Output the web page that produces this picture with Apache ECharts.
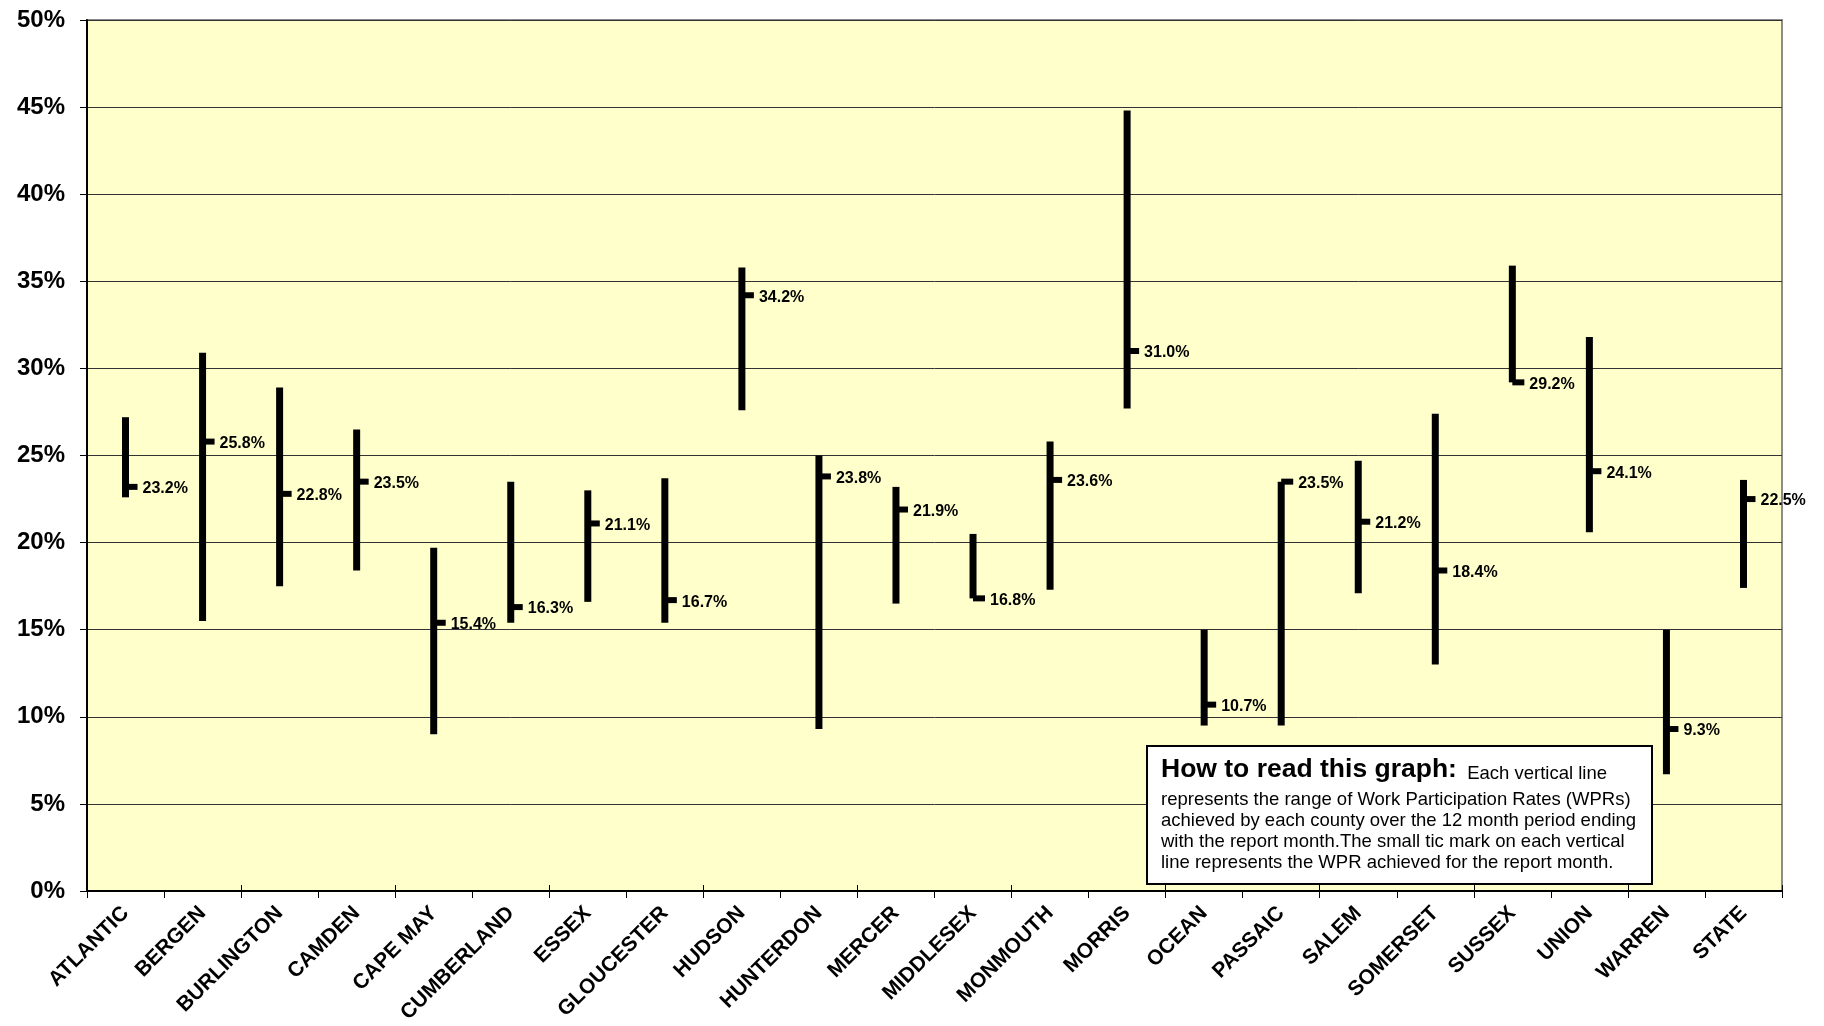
<!DOCTYPE html>
<html>
<head>
<meta charset="utf-8">
<script src="https://cdn.jsdelivr.net/npm/echarts@6/dist/echarts.min.js"></script>
<style>
html,body{margin:0;padding:0;background:#fff;}
#chart{width:1824px;height:1026px;}
</style>
</head>
<body>
<div id="chart"></div>
<script>
const categories = ['ATLANTIC','BERGEN','BURLINGTON','CAMDEN','CAPE MAY','CUMBERLAND','ESSEX','GLOUCESTER','HUDSON','HUNTERDON','MERCER','MIDDLESEX','MONMOUTH','MORRIS','OCEAN','PASSAIC','SALEM','SOMERSET','SUSSEX','UNION','WARREN','STATE'];
const highs   = [27.2, 30.9, 28.9, 26.5, 19.7, 23.5, 23.0, 23.7, 35.8, 25.0, 23.2, 20.5, 25.8, 44.8, 15.0, 23.5, 24.7, 27.4, 35.9, 31.8, 15.0, 23.6];
const lows    = [22.6, 15.5, 17.5, 18.4,  9.0, 15.4, 16.6, 15.4, 27.6,  9.3, 16.5, 16.8, 17.3, 27.7,  9.5,  9.5, 17.1, 13.0, 29.2, 20.6,  6.7, 17.4];
const current = [23.2, 25.8, 22.8, 23.5, 15.4, 16.3, 21.1, 16.7, 34.2, 23.8, 21.9, 16.8, 23.6, 31.0, 10.7, 23.5, 21.2, 18.4, 29.2, 24.1,  9.3, 22.5];
const yTicks = [0, 5, 10, 15, 20, 25, 30, 35, 40, 45, 50];

const noteHeading = 'How to read this graph:';
const noteLines = [
  'Each vertical line',
  'represents the range of Work Participation Rates (WPRs)',
  'achieved by each county over the 12 month period ending',
  'with the report month.The small tic mark on each vertical',
  'line represents the WPR achieved for the report month.'
];

const FONT = 'Arial, "Liberation Sans", Helvetica, sans-serif';
const data = categories.map((c, i) => [i, lows[i], highs[i], current[i]]);

const chart = echarts.init(document.getElementById('chart'), null, {renderer: 'canvas'});

const boxX = 1147, boxY = 746, boxW = 505, boxH = 138;
const textX = 1161;
const bodyFont = '18.5px ' + FONT;

const graphics = [
  {type: 'rect', z: 100, shape: {x: boxX, y: boxY, width: boxW, height: boxH},
   style: {fill: '#ffffff', stroke: '#000000', lineWidth: 2}},
  {type: 'text', z: 101, x: textX, y: 783,
   style: {text: '{h|' + noteHeading + '}{b|  ' + noteLines[0] + '}', verticalAlign: 'bottom',
     rich: {h: {font: 'bold 26.5px ' + FONT, fill: '#000', verticalAlign: 'bottom'},
            b: {font: bodyFont, fill: '#000', verticalAlign: 'bottom'}}}}
];
const baselines = [806, 827, 848, 869];
for (let k = 1; k < noteLines.length; k++) {
  graphics.push({type: 'text', z: 101, x: textX, y: baselines[k - 1] - 6,
    style: {text: noteLines[k], font: bodyFont, fill: '#000', verticalAlign: 'middle'}});
}

chart.setOption({
  animation: false,
  backgroundColor: '#ffffff',
  grid: {left: 87, right: 42, top: 20, bottom: 133, show: true,
         backgroundColor: '#FFFFCC', borderColor: '#8c8c8c', borderWidth: 2},
  xAxis: [{
    type: 'category', data: categories, boundaryGap: true,
    axisLine: {lineStyle: {color: '#000', width: 2}},
    axisTick: {show: true, length: 7, lineStyle: {color: '#000', width: 1}},
    axisLabel: {interval: 0, rotate: 45, margin: 19, color: '#000',
                fontSize: 21, fontWeight: 'bold', fontFamily: FONT},
    splitLine: {show: false}
  }, {
    type: 'category', data: categories, boundaryGap: true, position: 'bottom',
    axisLine: {show: false},
    axisTick: {show: true, inside: true, length: 6, lineStyle: {color: '#000', width: 1}},
    axisLabel: {show: false}, splitLine: {show: false}
  }],
  yAxis: {
    type: 'value', min: yTicks[0], max: yTicks[yTicks.length - 1], interval: 5,
    axisLine: {show: true, lineStyle: {color: '#000', width: 2}},
    axisTick: {show: true, length: 7, lineStyle: {color: '#000', width: 1}},
    axisLabel: {formatter: '{value}%', margin: 22, color: '#000',
                fontSize: 24, fontWeight: 'bold', fontFamily: FONT},
    splitLine: {show: true, lineStyle: {color: '#333', width: 1}}
  },
  series: [{
    type: 'custom',
    data: data,
    clip: false,
    encode: {x: 0, y: [1, 2, 3]},
    renderItem: function (params, api) {
      const x = api.value(0);
      const lo = api.value(1), hi = api.value(2), cur = api.value(3);
      const pHi = api.coord([x, hi]);
      const pLo = api.coord([x, lo]);
      const pCur = api.coord([x, cur]);
      return {type: 'group', children: [
        {type: 'rect', shape: {x: pHi[0] - 3.5, y: pHi[1], width: 7, height: pLo[1] - pHi[1]},
         style: {fill: '#000'}},
        {type: 'rect', shape: {x: pHi[0], y: pCur[1] - 3, width: 12, height: 6},
         style: {fill: '#000'}},
        {type: 'text', x: pHi[0] + 17, y: pCur[1] + 2,
         style: {text: cur.toFixed(1) + '%', fill: '#000', font: 'bold 16px ' + FONT,
                 verticalAlign: 'middle', align: 'left'}}
      ]};
    }
  }],
  graphic: graphics
});
</script>
</body>
</html>
